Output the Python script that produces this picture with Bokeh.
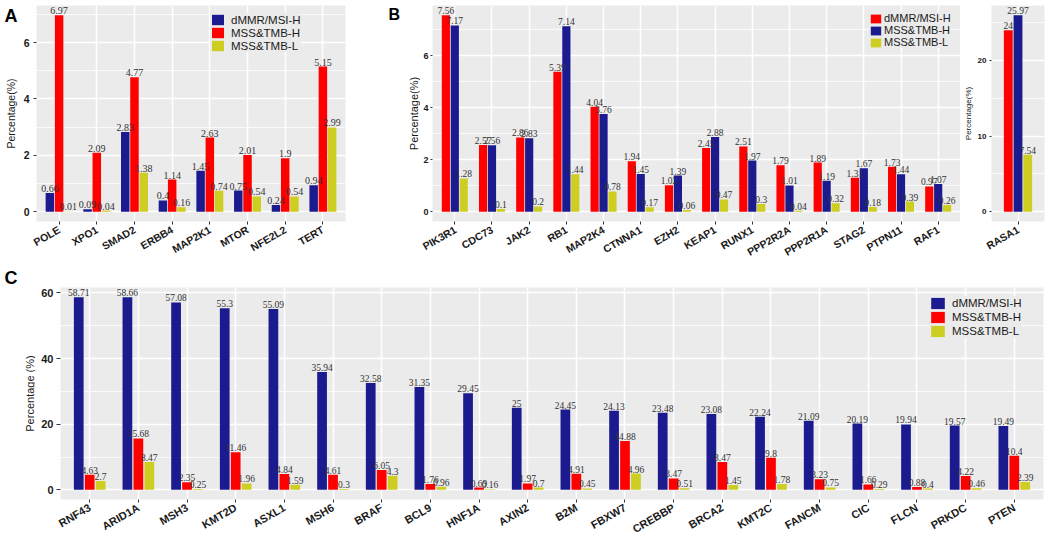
import math
from bokeh.plotting import figure
from bokeh.models import (ColumnDataSource, FactorRange, Range1d, Legend, LegendItem,
                          Label, LabelSet, SingleIntervalTicker, Title)
from bokeh.layouts import row, column
from bokeh.transform import dodge
from bokeh.embed import file_html
from bokeh.resources import INLINE

# ---------------- data ----------------
series_names = ["dMMR/MSI-H", "MSS&TMB-H", "MSS&TMB-L"]

a_genes = ["POLE", "XPO1", "SMAD2", "ERBB4", "MAP2K1", "MTOR", "NFE2L2", "TERT"]
a_dmmr = [0.66, 0.09, 2.83, 0.4, 1.45, 0.75, 0.24, 0.94]
a_tmbh = [6.97, 2.09, 4.77, 1.14, 2.63, 2.01, 1.9, 5.15]
a_tmbl = [0.01, 0.04, 1.38, 0.16, 0.74, 0.54, 0.54, 2.99]

b_genes = ["PIK3R1", "CDC73", "JAK2", "RB1", "MAP2K4", "CTNNA1", "EZH2", "KEAP1",
           "RUNX1", "PPP2R2A", "PPP2R1A", "STAG2", "PTPN11", "RAF1"]
b_dmmr = [7.56, 2.57, 2.86, 5.39, 4.04, 1.94, 1.02, 2.45, 2.51, 1.79, 1.89, 1.31, 1.73, 0.97]
b_tmbh = [7.17, 2.56, 2.83, 7.14, 3.76, 1.45, 1.39, 2.88, 1.97, 1.01, 1.19, 1.67, 1.44, 1.07]
b_tmbl = [1.28, 0.1, 0.2, 1.44, 0.78, 0.17, 0.06, 0.47, 0.3, 0.04, 0.32, 0.18, 0.39, 0.26]

r_genes = ["RASA1"]
r_dmmr = [24]
r_tmbh = [25.97]
r_tmbl = [7.54]

c_genes = ["RNF43", "ARID1A", "MSH3", "KMT2D", "ASXL1", "MSH6", "BRAF", "BCL9", "HNF1A",
           "AXIN2", "B2M", "FBXW7", "CREBBP", "BRCA2", "KMT2C", "FANCM", "CIC", "FLCN",
           "PRKDC", "PTEN"]
c_dmmr = [58.71, 58.66, 57.08, 55.3, 55.09, 35.94, 32.58, 31.35, 29.45, 25, 24.45, 24.13,
          23.48, 23.08, 22.24, 21.09, 20.19, 19.94, 19.57, 19.49]
c_tmbh = [4.63, 15.68, 2.35, 11.46, 4.84, 4.61, 6.05, 1.76, 0.69, 1.97, 4.91, 14.88,
          3.47, 8.47, 9.8, 3.23, 1.66, 0.88, 4.22, 10.4]
c_tmbl = [2.7, 8.47, 0.25, 1.96, 1.59, 0.3, 4.3, 0.96, 0.16, 0.7, 0.45, 4.96,
          0.51, 1.45, 1.78, 0.75, 0.29, 0.4, 0.46, 2.39]

panel_letters = ["A", "B", "C"]
ytitle_top = "Percentage(%)"
ytitle_c = "Percentage (%)"

# ---------------- style ----------------
FONT = "Liberation Sans"
BLUE = "#1B1B8F"
RED = "#FF0000"
YELLOW = "#CDCD22"
BG = "#EBEBEB"

TOP_H = 265      # height of the upper row
TOP_TB = 5       # top border of upper row plots
TOP_BB = 43      # bottom border of upper row plots
C_H = 278        # height of the lower row
C_TB = 22
C_BB = 44


def fmt(v):
    return f"{v:g}"


def make_panel(genes, series, colors, width, height, borders, interval, offs, bw,
               val_size, xtick_size, ytick_size, ytick_out, ytick_standoff,
               legend_cfg, ytitle=None, ytitle_size=None, ytitle_standoff=0):
    lb, rb, tb, bb = borders
    ymax = max(max(v) for v in series)
    pad = 0.05 * ymax
    p = figure(x_range=FactorRange(factors=genes, range_padding=0.1,
                                   range_padding_units="absolute"),
               y_range=Range1d(-pad, ymax + pad), width=width, height=height,
               output_backend="svg", toolbar_location=None,
               min_border_left=lb, min_border_right=rb,
               min_border_top=tb, min_border_bottom=bb)
    p.background_fill_color = BG
    p.border_fill_color = "white"
    p.outline_line_color = None
    p.xgrid.grid_line_color = "white"
    p.xgrid.grid_line_width = 1.5
    p.ygrid.grid_line_color = "white"
    p.ygrid.grid_line_width = 1.5
    p.ygrid.minor_grid_line_color = "white"
    p.ygrid.minor_grid_line_width = 0.8
    p.yaxis.ticker = SingleIntervalTicker(interval=interval, num_minor_ticks=2)

    for ax in (p.xaxis[0], p.yaxis[0]):
        ax.axis_line_color = None
        ax.major_tick_line_color = "#333333"
        ax.major_tick_in = 0
        ax.minor_tick_line_color = None
        ax.major_label_text_font = FONT
        ax.major_label_text_font_style = "bold"
        ax.major_label_text_color = "#1a1a1a"
    p.xaxis.major_tick_out = 3
    p.xaxis.major_label_standoff = 4
    p.xaxis.major_label_orientation = math.pi / 6
    p.xaxis.major_label_text_font_size = xtick_size
    p.yaxis.major_tick_out = ytick_out
    p.yaxis.major_label_standoff = ytick_standoff
    p.yaxis.major_label_text_font_size = ytick_size
    if ytitle is not None:
        p.yaxis.axis_label = ytitle
        p.yaxis.axis_label_text_font = FONT
        p.yaxis.axis_label_text_font_style = "normal"
        p.yaxis.axis_label_text_font_size = ytitle_size
        p.yaxis.axis_label_text_color = "#1a1a1a"
        p.yaxis.axis_label_standoff = ytitle_standoff

    renderers = []
    for vals, col, off in zip(series, colors, offs):
        src = ColumnDataSource(dict(x=genes, top=vals, lab=[fmt(v) for v in vals]))
        r = p.vbar(x=dodge("x", off, range=p.x_range), top="top", width=bw,
                   fill_color=col, line_color=None, source=src)
        renderers.append(r)
        p.add_layout(LabelSet(x=dodge("x", off, range=p.x_range), y="top", text="lab",
                              source=src, text_font=FONT, text_font_size=val_size,
                              text_color="#333333", text_align="center",
                              text_baseline="bottom", y_offset=1))

    if legend_cfg is not None:
        loc, gw, gh, fs, standoff = legend_cfg
        leg = Legend(items=[LegendItem(label=n, renderers=[r])
                            for n, r in zip(series_names, renderers)],
                     location=loc, orientation="vertical", glyph_width=gw,
                     glyph_height=gh, label_height=gh, spacing=0, padding=2, margin=0,
                     background_fill_color=BG, background_fill_alpha=1.0,
                     border_line_color=None, label_text_font=FONT,
                     label_text_font_size=fs, label_text_color="#1a1a1a",
                     label_standoff=standoff)
        p.add_layout(leg)
    return p


def gutter(width, height, tb, bb, title, tx, tsize):
    """Blank strip left of a panel that holds the y-axis title (and the panel letter)."""
    g = figure(width=width, height=height, x_range=Range1d(0, 1), y_range=Range1d(0, 1),
               x_axis_location=None, y_axis_location=None, output_backend="svg",
               toolbar_location=None, min_border_left=0, min_border_right=0,
               min_border_top=tb, min_border_bottom=bb)
    g.grid.visible = False
    g.outline_line_color = None
    g.background_fill_color = "white"
    g.border_fill_color = "white"
    g.add_layout(Label(x=tx, y=0.5, x_units="screen", y_units="data", text=title,
                       angle=math.pi / 2, text_font=FONT, text_font_size=tsize,
                       text_color="#1a1a1a", text_baseline="middle", text_align="center"))
    return g


def letter_label(g, txt, lx, size):
    g.add_layout(Label(x=lx, y=1, x_units="screen", y_units="data", text=txt,
                       text_font=FONT, text_font_size=size, text_font_style="bold",
                       text_color="black", text_baseline="top", text_align="left"))


gA = gutter(20, TOP_H, TOP_TB, TOP_BB, ytitle_top, 10, "10.5px")
letter_label(gA, panel_letters[0], 4, "18px")
pA = make_panel(a_genes, [a_dmmr, a_tmbh, a_tmbl], [BLUE, RED, YELLOW],
                width=330, height=TOP_H, borders=(15, 5, TOP_TB, TOP_BB), interval=2,
                offs=[-0.245, 0, 0.245], bw=0.225, val_size="10px",
                xtick_size="10.5px", ytick_size="10.5px", ytick_out=3, ytick_standoff=3,
                legend_cfg=((174, 169), 15, 13, "11.5px", 6))

gB = gutter(70, TOP_H, TOP_TB, TOP_BB, ytitle_top, 63, "11px")
letter_label(gB, panel_letters[1], 38, "16px")
pB = make_panel(b_genes, [b_dmmr, b_tmbh, b_tmbl], [RED, BLUE, YELLOW],
                width=540, height=TOP_H, borders=(7, 0, TOP_TB, TOP_BB), interval=2,
                offs=[-0.24, 0, 0.24], bw=0.22, val_size="9.5px",
                xtick_size="10.5px", ytick_size="9px", ytick_out=2, ytick_standoff=0,
                legend_cfg=((437, 173), 13, 11, "11px", 2))

pR = make_panel(r_genes, [r_dmmr, r_tmbh, r_tmbl], [RED, BLUE, YELLOW],
                width=86, height=TOP_H, borders=(27, 2, TOP_TB, TOP_BB), interval=10,
                offs=[-0.22, 0, 0.22], bw=0.2, val_size="9.5px",
                xtick_size="10.5px", ytick_size="8px", ytick_out=2, ytick_standoff=1,
                legend_cfg=None, ytitle=ytitle_top, ytitle_size="8px", ytitle_standoff=2)

gC = gutter(35, C_H, C_TB, C_BB, ytitle_c, 29, "11px")
gC.add_layout(Title(text=panel_letters[2], align="left", offset=4, standoff=0,
                    text_font=FONT, text_font_size="18px", text_font_style="bold",
                    text_color="black"), "above")
pC = make_panel(c_genes, [c_dmmr, c_tmbh, c_tmbl], [BLUE, RED, YELLOW],
                width=1011, height=C_H, borders=(25, 3, C_TB, C_BB), interval=20,
                offs=[-0.225, 0, 0.225], bw=0.2, val_size="9.5px",
                xtick_size="11px", ytick_size="11px", ytick_out=4, ytick_standoff=3,
                legend_cfg=((869, 161), 17, 14, "11.5px", 6))

layout = column(row(gA, pA, gB, pB, pR), row(gC, pC))
open("out.html", "w").write(file_html(layout, INLINE))
